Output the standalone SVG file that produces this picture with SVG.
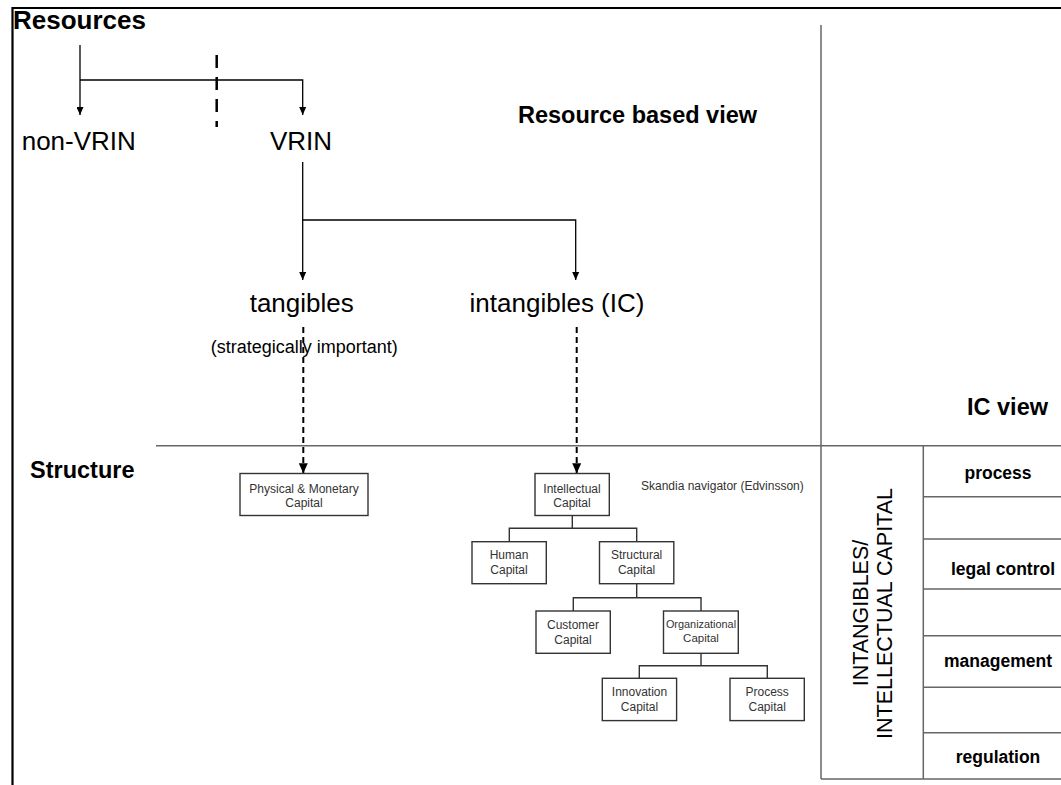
<svg xmlns="http://www.w3.org/2000/svg" width="1061" height="785" viewBox="0 0 1061 785">
<defs>
<style>
.h{font-family:"Liberation Sans",Arial,sans-serif;font-weight:bold;fill:#000}
.t{font-family:"Liberation Sans",Arial,sans-serif;fill:#000}
.b{font-family:"Liberation Sans",Arial,sans-serif;font-size:12px;fill:#333;text-anchor:middle}
.s{font-family:"Liberation Sans",Arial,sans-serif;font-size:12px;fill:#333;text-anchor:start}
.ic{font-family:"Liberation Sans",Arial,sans-serif;font-weight:bold;font-size:17.5px;fill:#000;text-anchor:middle}
.box{fill:#fff;stroke:#333;stroke-width:1.4}
.ln{fill:none;stroke:#000;stroke-width:1.3}
.tl{fill:none;stroke:#333;stroke-width:1.4}
.gl{fill:none;stroke:#666;stroke-width:1.5}
.dl{fill:none;stroke:#000;stroke-width:2;stroke-dasharray:6 4}
</style>
<marker id="ah" viewBox="0 0 8 7" refX="8" refY="3.5" markerWidth="8" markerHeight="7" markerUnits="userSpaceOnUse" orient="auto"><path d="M0,0 L8,3.5 L0,7 Z" fill="#000"/></marker>
<marker id="ah2" viewBox="0 0 10 9" refX="10" refY="4.5" markerWidth="10" markerHeight="9" markerUnits="userSpaceOnUse" orient="auto"><path d="M0,0 L10,4.5 L0,9 Z" fill="#000"/></marker>
</defs>
<rect width="1061" height="785" fill="#fff"/>
<g id="frame">
<line x1="12" y1="8" x2="1061" y2="8" stroke="#000" stroke-width="2.2"/>
<line x1="12.5" y1="7" x2="12.5" y2="785" stroke="#000" stroke-width="2.2"/>
<line x1="821" y1="25" x2="821" y2="779" class="gl"/>
<line x1="156" y1="445.7" x2="1061" y2="445.7" class="gl"/>
</g>
<g id="labels">
<text class="h" x="13" y="29" font-size="26">Resources</text>
<text class="h" x="518" y="123" font-size="23.5">Resource based view</text>
<text class="h" x="30" y="478" font-size="23.5">Structure</text>
<text class="h" x="967" y="415" font-size="23.5">IC view</text>
<text class="s" x="641" y="490">Skandia navigator (Edvinsson)</text>
</g>
<g id="connectors">
<path class="ln" d="M80,45 V115" marker-end="url(#ah)"/>
<path class="ln" d="M80,80 H302.7 V115" marker-end="url(#ah)"/>
<line x1="216.7" y1="55" x2="216.7" y2="127" stroke="#000" stroke-width="2.5" stroke-dasharray="13 9"/>
<path class="ln" d="M302.7,162 V220" />
<path class="ln" d="M302.7,220 V280" marker-end="url(#ah)"/>
<path class="ln" d="M302.7,220 H575.7 V280" marker-end="url(#ah)"/>
<path class="dl" d="M303.3,327 V473.3" marker-end="url(#ah2)"/>
<path class="dl" d="M576.7,327 V473.3" marker-end="url(#ah2)"/>
<path class="tl" d="M572.3,515.3 V528.3 M509.3,541.7 V528.3 H636.7 V541.7"/>
<path class="tl" d="M636.7,583.3 V597.7 M573.3,611 V597.7 H701 V611"/>
<path class="tl" d="M701,653.3 V665.7 M639.3,678.3 V665.7 H767.3 V678.3"/>
</g>
<g id="n-nonvrin"><text class="t" x="21.7" y="150" font-size="26">non-VRIN</text></g>
<g id="n-vrin"><text class="t" x="301" y="150" font-size="26" text-anchor="middle">VRIN</text></g>
<g id="n-tangibles"><text class="t" x="301.7" y="311.7" font-size="26" text-anchor="middle">tangibles</text>
<text class="t" x="304.2" y="353.3" font-size="18" text-anchor="middle">(strategically important)</text></g>
<g id="n-intangibles"><text class="t" x="557" y="312" font-size="26" text-anchor="middle">intangibles (IC)</text></g>
<g id="n-physical"><rect class="box" x="240" y="473.5" width="128" height="42"/>
<text class="b" x="304" y="492.5">Physical &amp; Monetary</text><text class="b" x="304" y="506.7">Capital</text></g>
<g id="n-intellectual"><rect class="box" x="535" y="473.5" width="74.3" height="42"/>
<text class="b" x="572" y="492.5">Intellectual</text><text class="b" x="572" y="506.7">Capital</text></g>
<g id="n-human"><rect class="box" x="472" y="541.7" width="74.3" height="42"/>
<text class="b" x="509" y="559">Human</text><text class="b" x="509" y="574.3">Capital</text></g>
<g id="n-structural"><rect class="box" x="599.5" y="541.7" width="74.3" height="42"/>
<text class="b" x="636.6" y="559">Structural</text><text class="b" x="636.6" y="574.3">Capital</text></g>
<g id="n-customer"><rect class="box" x="536" y="611" width="74.3" height="42.3"/>
<text class="b" x="573" y="628.5">Customer</text><text class="b" x="573" y="644">Capital</text></g>
<g id="n-organizational"><rect class="box" x="663.5" y="611" width="74.8" height="42.3"/>
<text class="b" x="701" y="628.3" style="font-size:10.9px">Organizational</text><text class="b" x="701" y="642" style="font-size:11.5px">Capital</text></g>
<g id="n-innovation"><rect class="box" x="602.3" y="678.3" width="74.3" height="42.3"/>
<text class="b" x="639.5" y="695.5">Innovation</text><text class="b" x="639.5" y="711">Capital</text></g>
<g id="n-process"><rect class="box" x="730" y="678.3" width="74.3" height="42.3"/>
<text class="b" x="767.2" y="695.5">Process</text><text class="b" x="767.2" y="711">Capital</text></g>
<g id="ic-table">
<path class="gl" d="M923.3,445.7 V779 M821,779 H1061 M923.3,496.7 H1061 M923.3,539 H1061 M923.3,589 H1061 M923.3,635.7 H1061 M923.3,687.3 H1061 M923.3,732.7 H1061"/>
<text class="t" transform="translate(868,613) rotate(-90)" font-size="21.5" text-anchor="middle">INTANGIBLES/</text>
<text class="t" transform="translate(892,613.5) rotate(-90)" font-size="21.5" text-anchor="middle">INTELLECTUAL CAPITAL</text>
<text class="ic" x="998" y="478.5">process</text>
<text class="ic" x="1003" y="575">legal control</text>
<text class="ic" x="998" y="667">management</text>
<text class="ic" x="998" y="763.3">regulation</text>
</g>
</svg>
